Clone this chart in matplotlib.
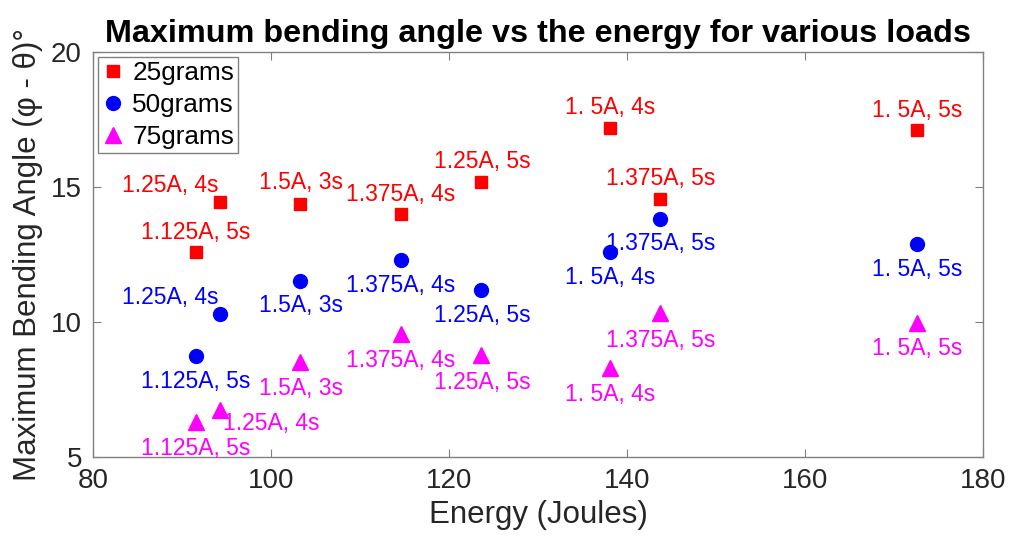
import numpy as np
import matplotlib
matplotlib.use("Agg")
import matplotlib.pyplot as plt

plt.rcParams.update({"font.family": ["Liberation Sans", "DejaVu Sans"]})

# energies (J) of the eight current/time settings
energy = [91.6, 94.3, 103.3, 114.6, 123.6, 138.1, 143.7, 172.6]
settings = ["1.125A, 5s", "1.25A, 4s", "1.5A, 3s", "1.375A, 4s",
            "1.25A, 5s", "1. 5A, 4s", "1.375A, 5s", "1. 5A, 5s"]
angle_25 = [12.58, 14.43, 14.38, 14.01, 15.17, 17.17, 14.57, 17.10]
angle_50 = [8.73, 10.29, 11.53, 12.30, 11.20, 12.58, 13.81, 12.88]
angle_75 = [6.31, 6.74, 8.51, 9.56, 8.78, 8.28, 10.32, 9.98]

# where each text label sits (energy, baseline angle)
lab_25 = [(91.57, 13.07), (88.71, 14.83), (103.34, 14.91), (114.55, 14.49),
          (123.78, 15.69), (138.07, 17.69), (143.75, 15.09), (172.62, 17.60)]
lab_50 = [(91.57, 7.54), (88.71, 10.67), (103.34, 10.36), (114.55, 11.10),
          (123.78, 10.01), (138.07, 11.40), (143.75, 12.67), (172.62, 11.70)]
lab_75 = [(91.57, 5.07), (100.08, 6.00), (103.34, 7.30), (114.55, 8.34),
          (123.78, 7.51), (138.07, 7.07), (143.75, 9.09), (172.62, 8.78)]

fig = plt.figure(figsize=(10.09, 5.43), dpi=100)
ax = fig.add_axes([0.0922, 0.1584, 0.8821, 0.7459])

series = [(angle_25, lab_25, "s", 8.6, "#ff0000", "25grams"),
          (angle_50, lab_50, "o", 10, "#0000ff", "50grams"),
          (angle_75, lab_75, "^", 11, "#ff00ff", "75grams")]
for ys, labs, mk, ms, col, name in series:
    ax.plot(energy, ys, ls="none", marker=mk, ms=ms, color=col, mec=col, label=name)
    for (lx, ly), t in zip(labs, settings):
        ax.text(lx, ly, t, color=col, fontsize=16.5, ha="center", va="baseline")

ax.set_xlim(80, 180); ax.set_ylim(5, 20)
ax.set_xticks(np.arange(80, 181, 20)); ax.set_yticks([5, 10, 15, 20])
ax.tick_params(direction="in", length=6, width=0.8, color="#808080",
               labelsize=20, labelcolor="#262626", top=True, right=True, pad=8)
for s in ax.spines.values():
    s.set_color("#808080"); s.set_linewidth(1.0)

ax.set_xlabel("Energy (Joules)", fontsize=22.5, color="#262626", labelpad=4)
ax.set_ylabel("Maximum Bending Angle (φ - θ)°", fontsize=22.5, color="#262626", labelpad=6)
ax.set_title("Maximum bending angle vs the energy for various loads",
             fontsize=23.3, fontweight="bold", pad=7)

leg = ax.legend(loc="upper left", fontsize=18.8, fancybox=False, edgecolor="#808080",
                borderaxespad=0.2, handletextpad=0.35, handlelength=0.8,
                borderpad=0.15, labelspacing=0.3, framealpha=1)
leg.get_frame().set_linewidth(1.0)

fig.savefig("out.png", dpi=100)
